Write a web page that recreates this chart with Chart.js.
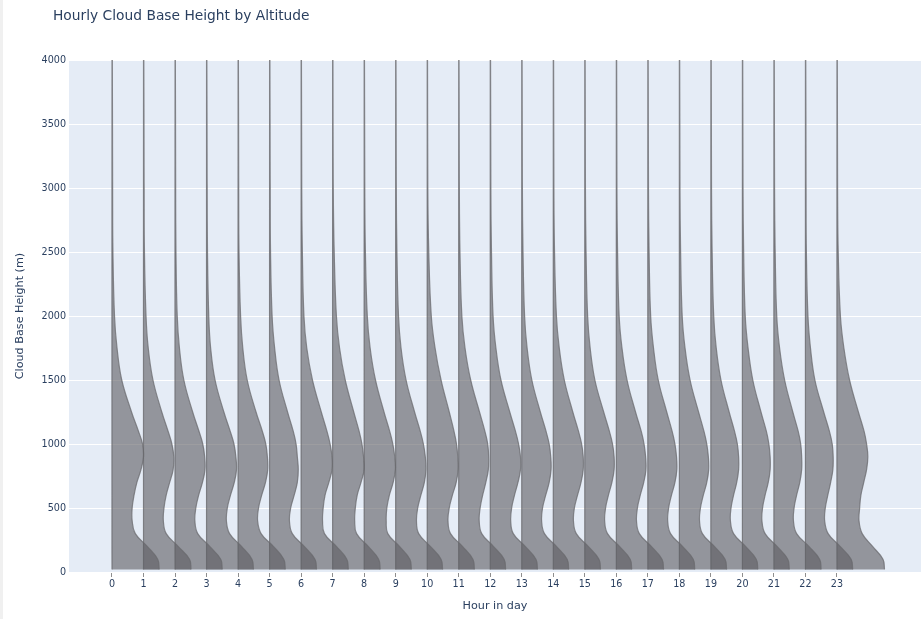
<!DOCTYPE html>
<html>
<head>
<meta charset="utf-8">
<script src="https://cdn.jsdelivr.net/npm/chart.js@4"></script>
<style>
  html, body { margin: 0; padding: 0; background: #fff; }
  #wrap { position: relative; width: 921px; height: 619px; }
  #edge { position: absolute; left: 0; top: 0; width: 3px; height: 619px; background: #f0f0f0; }
</style>
</head>
<body>
<div id="wrap"><canvas id="chart"></canvas><div id="edge"></div></div>
<script>
// hours on the x axis
const hours = [0, 1, 2, 3, 4, 5, 6, 7, 8, 9, 10, 11, 12, 13, 14, 15, 16, 17, 18, 19, 20, 21, 22, 23];
// heights (m) where the violin widths were read
const heights = [20, 100, 200, 300, 400, 500, 600, 700, 800, 900, 1000, 1100, 1250, 1500, 1750, 2000, 2500, 3000, 4000];
// half-violin width (in hours) for each hour, one row per hour, same order as heights
const violinWidths = [
  [1.50, 1.45, 1.12, 0.74, 0.64, 0.64, 0.70, 0.79, 0.92, 1.00, 0.97, 0.84, 0.62, 0.31, 0.16, 0.08, 0.03, 0.02, 0.01],
  [1.51, 1.46, 1.10, 0.72, 0.63, 0.65, 0.72, 0.83, 0.94, 0.96, 0.90, 0.78, 0.58, 0.30, 0.15, 0.08, 0.03, 0.02, 0.01],
  [1.50, 1.45, 1.10, 0.72, 0.63, 0.66, 0.75, 0.87, 0.95, 0.94, 0.88, 0.76, 0.56, 0.28, 0.14, 0.07, 0.03, 0.02, 0.01],
  [1.49, 1.44, 1.11, 0.73, 0.63, 0.66, 0.76, 0.88, 0.95, 0.93, 0.87, 0.75, 0.55, 0.27, 0.13, 0.07, 0.03, 0.02, 0.01],
  [1.50, 1.45, 1.12, 0.73, 0.62, 0.65, 0.75, 0.87, 0.94, 0.93, 0.88, 0.77, 0.57, 0.29, 0.15, 0.08, 0.03, 0.02, 0.01],
  [1.49, 1.44, 1.10, 0.72, 0.63, 0.67, 0.78, 0.88, 0.91, 0.88, 0.84, 0.75, 0.57, 0.30, 0.16, 0.08, 0.03, 0.02, 0.01],
  [1.50, 1.45, 1.12, 0.74, 0.68, 0.70, 0.76, 0.88, 0.98, 0.98, 0.92, 0.82, 0.64, 0.36, 0.18, 0.09, 0.04, 0.02, 0.01],
  [1.51, 1.46, 1.13, 0.76, 0.70, 0.72, 0.78, 0.90, 1.00, 0.98, 0.93, 0.84, 0.67, 0.40, 0.22, 0.12, 0.05, 0.02, 0.01],
  [1.50, 1.45, 1.12, 0.75, 0.70, 0.72, 0.80, 0.92, 0.99, 0.97, 0.91, 0.81, 0.63, 0.36, 0.19, 0.10, 0.04, 0.02, 0.01],
  [1.49, 1.44, 1.10, 0.73, 0.66, 0.70, 0.80, 0.91, 0.96, 0.94, 0.88, 0.78, 0.60, 0.33, 0.17, 0.09, 0.04, 0.02, 0.01],
  [1.50, 1.45, 1.12, 0.74, 0.66, 0.70, 0.80, 0.92, 0.98, 0.97, 0.93, 0.85, 0.70, 0.44, 0.25, 0.13, 0.05, 0.02, 0.01],
  [1.49, 1.44, 1.10, 0.73, 0.65, 0.68, 0.76, 0.86, 0.94, 0.95, 0.92, 0.83, 0.66, 0.38, 0.20, 0.10, 0.04, 0.02, 0.01],
  [1.50, 1.45, 1.11, 0.73, 0.65, 0.68, 0.77, 0.88, 0.96, 0.96, 0.90, 0.80, 0.62, 0.34, 0.18, 0.09, 0.04, 0.02, 0.01],
  [1.49, 1.44, 1.10, 0.72, 0.63, 0.66, 0.76, 0.87, 0.93, 0.92, 0.87, 0.77, 0.59, 0.32, 0.17, 0.09, 0.04, 0.02, 0.01],
  [1.50, 1.45, 1.11, 0.73, 0.64, 0.67, 0.77, 0.88, 0.95, 0.95, 0.90, 0.80, 0.62, 0.35, 0.19, 0.10, 0.04, 0.02, 0.01],
  [1.49, 1.44, 1.10, 0.72, 0.63, 0.66, 0.75, 0.86, 0.93, 0.93, 0.88, 0.78, 0.60, 0.32, 0.17, 0.09, 0.04, 0.02, 0.01],
  [1.50, 1.45, 1.11, 0.73, 0.64, 0.67, 0.76, 0.87, 0.94, 0.93, 0.88, 0.79, 0.61, 0.34, 0.18, 0.09, 0.04, 0.02, 0.01],
  [1.49, 1.44, 1.10, 0.72, 0.63, 0.66, 0.75, 0.86, 0.92, 0.91, 0.86, 0.77, 0.60, 0.33, 0.18, 0.09, 0.04, 0.02, 0.01],
  [1.50, 1.45, 1.11, 0.73, 0.64, 0.67, 0.76, 0.87, 0.93, 0.92, 0.87, 0.78, 0.61, 0.34, 0.18, 0.09, 0.04, 0.02, 0.01],
  [1.49, 1.44, 1.10, 0.72, 0.62, 0.64, 0.72, 0.82, 0.88, 0.88, 0.84, 0.75, 0.58, 0.32, 0.17, 0.09, 0.04, 0.02, 0.01],
  [1.49, 1.44, 1.10, 0.72, 0.62, 0.64, 0.72, 0.82, 0.88, 0.88, 0.84, 0.76, 0.59, 0.33, 0.18, 0.09, 0.04, 0.02, 0.01],
  [1.50, 1.45, 1.11, 0.72, 0.62, 0.64, 0.72, 0.82, 0.88, 0.88, 0.85, 0.77, 0.60, 0.34, 0.18, 0.09, 0.04, 0.02, 0.01],
  [1.50, 1.45, 1.10, 0.72, 0.61, 0.63, 0.71, 0.80, 0.87, 0.88, 0.85, 0.76, 0.58, 0.30, 0.16, 0.08, 0.03, 0.02, 0.01],
  [1.51, 1.46, 1.13, 0.80, 0.70, 0.72, 0.76, 0.85, 0.94, 0.98, 0.94, 0.86, 0.68, 0.40, 0.22, 0.11, 0.04, 0.02, 0.01]
];
const yTicks = [0, 500, 1000, 1500, 2000, 2500, 3000, 3500, 4000];

const textColor = '#2a3f5f';
const fontFamily = '"DejaVu Sans", Verdana, sans-serif';

// one closed outline per hour: up the curved side, then back down the straight side
const datasets = hours.map((h, i) => {
  const pts = heights.map((y, j) => ({ x: h + violinWidths[i][j], y: y }));
  pts.push({ x: h, y: heights[heights.length - 1] });
  pts.push({ x: h, y: heights[0] });
  return {
    label: String(h),
    data: pts,
    fill: 'shape',
    backgroundColor: 'rgba(92,92,96,0.6)',
    borderColor: 'rgba(105,105,110,0.75)',
    borderWidth: 1.2,
    pointRadius: 0,
    tension: 0.4
  };
});

const plotBg = {
  id: 'plotBg',
  beforeDraw(chart) {
    const { ctx, chartArea: a } = chart;
    ctx.save();
    ctx.fillStyle = '#e5ecf6';
    ctx.fillRect(a.left, a.top, a.right - a.left, a.bottom - a.top);
    ctx.restore();
  },
  afterDraw(chart) {
    const ctx = chart.ctx;
    ctx.save();
    ctx.fillStyle = textColor;
    ctx.font = '13.8px ' + fontFamily;
    ctx.textBaseline = 'alphabetic';
    ctx.fillText('Hourly Cloud Base Height by Altitude', 53, 19.5);
    ctx.restore();
  }
};

new Chart(document.getElementById('chart'), {
  type: 'line',
  data: { datasets: datasets },
  options: {
    responsive: true,
    maintainAspectRatio: false,
    animation: false,
    layout: { padding: { top: 60, right: 0, bottom: 0, left: 0 } },
    plugins: {
      legend: { display: false },
      tooltip: { enabled: false }
    },
    scales: {
      x: {
        type: 'linear',
        min: -1.364,
        max: 25.666,
        afterFit: (s) => { s.height = 47; },
        afterBuildTicks: (s) => { s.ticks = hours.map(v => ({ value: v })); },
        grid: { drawOnChartArea: false, drawTicks: true, tickLength: 5, color: 'rgba(68,68,68,0.6)' },
        border: { display: false },
        ticks: { color: textColor, font: { family: fontFamily, size: 9.6 }, padding: 2, maxRotation: 0, autoSkip: false },
        title: { display: true, text: 'Hour in day', color: textColor, font: { family: fontFamily, size: 11.2 }, padding: { top: 0, bottom: 6 } }
      },
      y: {
        type: 'linear',
        min: 0,
        max: 4000,
        afterFit: (s) => { s.width = 69; },
        afterBuildTicks: (s) => { s.ticks = yTicks.map(v => ({ value: v })); },
        grid: { color: '#ffffff', lineWidth: 1, drawTicks: false },
        border: { display: false },
        ticks: { color: textColor, font: { family: fontFamily, size: 9.6 }, padding: 3, callback: (v) => String(v) },
        title: { display: true, text: 'Cloud Base Height (m)', color: textColor, font: { family: fontFamily, size: 11.2 }, padding: { top: 13, bottom: 0 } }
      }
    }
  },
  plugins: [plotBg]
});
</script>
</body>
</html>
